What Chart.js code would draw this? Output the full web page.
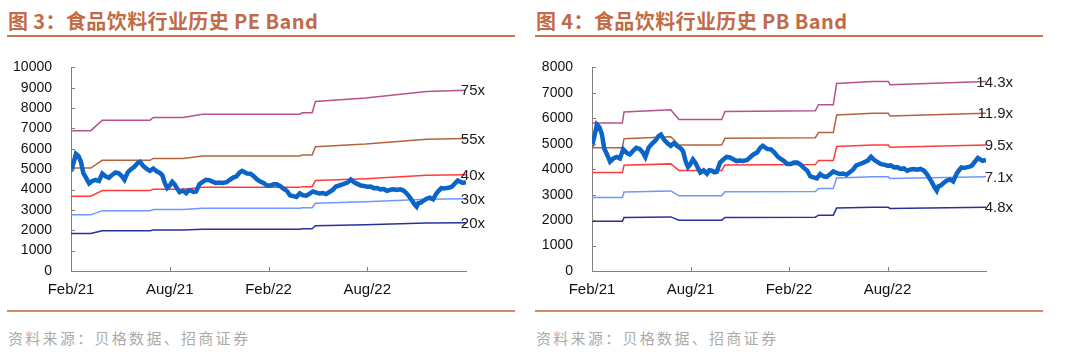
<!DOCTYPE html>
<html>
<head>
  <meta charset="utf-8">
  <title>PE / PB Band</title>
  <script src="https://cdn.jsdelivr.net/npm/chart.js"></script>
  <style>
    body { margin: 0; background: #fff; width: 1080px; height: 364px; position: relative; overflow: hidden; }
    .title { position: absolute; top: 9px; font: bold 20px "Noto Sans CJK SC", sans-serif; line-height: 24px; letter-spacing: 0.4px; color: #c06c48; white-space: nowrap; }
    .rule { position: absolute; background: #c8704c; }
    .source { position: absolute; top: 328px; font: 15px "Noto Sans CJK SC", sans-serif; line-height: 20px; color: #ababab; letter-spacing: 2.3px; white-space: nowrap; }
    canvas { position: absolute; top: 40px; }
  </style>
</head>
<body>
  <div class="title" style="left:8px">图 3：食品饮料行业历史 PE Band</div>
  <div class="rule" style="left:7px; top:35px; width:508px; height:2px"></div>
  <canvas id="peChart" width="530" height="265" style="left:0"></canvas>
  <div class="rule" style="left:7px; top:310px; width:508px; height:2px; background:#d08a6c"></div>
  <div class="source" style="left:8px">资料来源：贝格数据、招商证券</div>

  <div class="title" style="left:536px">图 4：食品饮料行业历史 PB Band</div>
  <div class="rule" style="left:535px; top:35px; width:508px; height:2px"></div>
  <canvas id="pbChart" width="550" height="265" style="left:530px"></canvas>
  <div class="rule" style="left:535px; top:310px; width:508px; height:2px; background:#d08a6c"></div>
  <div class="source" style="left:536px">资料来源：贝格数据、招商证券</div>

  <script>
    // x values are months since Feb 2021
    const xTickLabels = ['Feb/21', 'Aug/21', 'Feb/22', 'Aug/22'];
    const xTickMonths = [0, 6, 12, 18];

    // index level (same line in both charts)
    const indexMonths = [0, 0.15, 0.3, 0.45, 0.6, 0.75, 0.9, 1.1, 1.3, 1.5, 1.7, 1.9, 2.1, 2.3, 2.5, 2.7, 2.9, 3.1, 3.25, 3.45,
      3.65, 3.85, 4.05, 4.2, 4.4, 4.6, 4.8, 5.0, 5.2, 5.4, 5.55, 5.7, 5.85, 6.0, 6.15, 6.3, 6.45, 6.6, 6.8, 7.0,
      7.15, 7.3, 7.45, 7.6, 7.8, 8.0, 8.2, 8.4, 8.6, 8.8, 9.0, 9.2, 9.45, 9.65, 9.85, 10.05, 10.25, 10.4, 10.55, 10.7,
      10.9, 11.1, 11.3, 11.5, 11.7, 11.9, 12.1, 12.3, 12.5, 12.7, 12.9, 13.1, 13.3, 13.5, 13.7, 13.9, 14.1, 14.3, 14.5, 14.7,
      14.9, 15.1, 15.3, 15.5, 15.7, 15.9, 16.1, 16.3, 16.5, 16.8, 17.0, 17.2, 17.4, 17.6, 17.8, 18.0, 18.2, 18.4, 18.6, 18.8,
      19.0, 19.2, 19.4, 19.6, 19.8, 20.0, 20.2, 20.4, 20.55, 20.7, 20.85, 21.0, 21.1, 21.25, 21.4, 21.6, 21.8, 22.0, 22.2, 22.35,
      22.5, 22.65, 22.8, 23.0, 23.15, 23.35, 23.5, 23.65, 23.8, 24.0];
    const indexValues = [4900, 5300, 5750, 5650, 5380, 4800, 4600, 4300, 4420, 4480, 4420, 4780, 4650, 4580, 4720, 4840, 4800, 4650, 4480, 4850,
      5000, 5120, 5300, 5360, 5150, 5020, 4920, 5030, 4900, 4820, 4700, 4320, 4080, 4200, 4380, 4250, 4050, 3870, 3950, 3820,
      3960, 3940, 3880, 3900, 4260, 4380, 4480, 4460, 4390, 4320, 4340, 4320, 4360, 4480, 4590, 4650, 4840, 4920, 4850, 4790,
      4780, 4660, 4500, 4400, 4320, 4200, 4200, 4266, 4260, 4180, 4050, 3950, 3720, 3680, 3640, 3810, 3720, 3700, 3800, 3910,
      3850, 3810, 3830, 3780, 3880, 3980, 4150, 4200, 4250, 4340, 4490, 4360, 4280, 4200, 4180, 4140, 4150, 4070, 4080, 4010,
      4030, 3940, 3990, 4010, 3980, 4010, 3950, 3810, 3650, 3490, 3300, 3160, 3330, 3360, 3450, 3550, 3600, 3520, 3810, 3950,
      4070, 4050, 4070, 4100, 4150, 4320, 4440, 4380, 4330, 4360];

    // PE bands
    const peMonths = [0, 1.2, 1.9, 4.8, 5.0, 6.8, 8.0, 13.9, 14.05, 14.65, 14.85, 17.9, 21.6, 24];
    const pe75 = [6893, 6893, 7410, 7410, 7538, 7538, 7703, 7703, 7770, 7770, 8325, 8498, 8820, 8873];
    const pe55 = [5055, 5055, 5434, 5434, 5528, 5528, 5649, 5649, 5698, 5698, 6105, 6232, 6468, 6507];
    const pe40 = [3676, 3676, 3952, 3952, 4020, 4020, 4108, 4108, 4144, 4144, 4440, 4532, 4704, 4732];
    const pe30 = [2757, 2757, 2964, 2964, 3015, 3015, 3081, 3081, 3108, 3108, 3330, 3399, 3528, 3549];
    const pe20 = [1838, 1838, 1976, 1976, 2010, 2010, 2054, 2054, 2072, 2072, 2220, 2266, 2352, 2366];

    // PB bands
    const pbMonths = [0, 1.85, 1.95, 4.8, 4.95, 5.3, 7.9, 8.1, 13.6, 13.8, 14.7, 14.9, 17.1, 18.05, 18.15, 24];
    const pb143 = [5820, 5820, 6249, 6335, 6221, 5949, 5949, 6263, 6292, 6535, 6535, 7365, 7450, 7450, 7322, 7450];
    const pb119 = [4843, 4843, 5200, 5272, 5177, 4950, 4950, 5212, 5236, 5438, 5438, 6129, 6200, 6200, 6093, 6200];
    const pb95 = [3867, 3867, 4152, 4209, 4133, 3952, 3952, 4161, 4180, 4342, 4342, 4893, 4950, 4950, 4864, 4950];
    const pb71 = [2890, 2890, 3103, 3145, 3089, 2954, 2954, 3110, 3124, 3245, 3245, 3657, 3699, 3699, 3635, 3699];
    const pb48 = [1954, 1954, 2098, 2126, 2088, 1997, 1997, 2102, 2112, 2194, 2194, 2472, 2501, 2501, 2458, 2501];

    const bandColors = ['#b8528a', '#b4643c', '#ff3b3b', '#6e97ff', '#2b2f9c'];

    function pts(xs, ys) {
      return xs.map((x, i) => ({ x: x, y: ys[i] }));
    }

    // inner tick marks + end labels
    const bandDecor = {
      id: 'bandDecor',
      afterDraw(chart, args, opts) {
        const ctx = chart.ctx;
        const xs = chart.scales.x, ys = chart.scales.y;
        ctx.save();
        ctx.strokeStyle = '#808080';
        ctx.lineWidth = 1;
        ctx.beginPath();
        ys.ticks.forEach(t => {
          const y = Math.round(ys.getPixelForValue(t.value)) + 0.5;
          ctx.moveTo(xs.left, y); ctx.lineTo(xs.left + 4, y);
        });
        xs.ticks.forEach(t => {
          const x = Math.round(xs.getPixelForValue(t.value)) + 0.5;
          ctx.moveTo(x, ys.bottom); ctx.lineTo(x, ys.bottom - 4);
        });
        ctx.stroke();

        ctx.fillStyle = '#222';
        ctx.font = '15px "Liberation Sans", Arial, sans-serif';
        ctx.textAlign = 'right';
        ctx.textBaseline = 'middle';
        chart.data.datasets.forEach(ds => {
          if (!ds.bandLabel) return;
          const last = ds.data[ds.data.length - 1];
          ctx.fillText(ds.bandLabel, xs.right + opts.labelOffset, ys.getPixelForValue(last.y) + 1);
        });
        ctx.restore();
      }
    };

    function makeChart(id, months, bands, labels, yMax, yWidth, padRight, labelOffset) {
      const datasets = [{
        data: pts(indexMonths, indexValues),
        borderColor: '#0b64c8',
        borderWidth: 4.5,
        pointRadius: 0,
        tension: 0
      }];
      bands.forEach((b, i) => {
        datasets.push({
          data: pts(months, b),
          bandLabel: labels[i],
          borderColor: bandColors[i],
          borderWidth: 1.5,
          pointRadius: 0,
          tension: 0
        });
      });
      return new Chart(document.getElementById(id), {
        type: 'line',
        data: { datasets: datasets },
        options: {
          responsive: false,
          animation: false,
          devicePixelRatio: 1,
          layout: { padding: { left: 0, top: 25, right: padRight, bottom: 4 } },
          plugins: { legend: { display: false }, tooltip: { enabled: false }, bandDecor: { labelOffset: labelOffset } },
          scales: {
            x: {
              type: 'linear',
              min: 0,
              max: 24,
              afterBuildTicks: axis => { axis.ticks = xTickMonths.map(v => ({ value: v })); },
              afterFit: axis => { axis.height = 30; },
              grid: { display: false, drawTicks: false },
              border: { color: '#808080', width: 1 },
              ticks: {
                padding: 10,
                color: '#111',
                font: { family: '"Liberation Sans", Arial, sans-serif', size: 15 },
                maxRotation: 0,
                callback: v => xTickLabels[xTickMonths.indexOf(v)]
              }
            },
            y: {
              min: 0,
              max: yMax,
              afterFit: axis => { axis.width = yWidth; },
              grid: { display: false, drawTicks: false },
              border: { color: '#808080', width: 1 },
              ticks: {
                stepSize: 1000,
                padding: 19,
                color: '#111',
                font: { family: '"Liberation Sans", Arial, sans-serif', size: 14 },
                callback: v => String(v)
              }
            }
          }
        },
        plugins: [bandDecor]
      });
    }

    makeChart('peChart', peMonths, [pe75, pe55, pe40, pe30, pe20], ['75x', '55x', '40x', '30x', '20x'], 10000, 71, 64, 19);
    makeChart('pbChart', pbMonths, [pb143, pb119, pb95, pb71, pb48], ['14.3x', '11.9x', '9.5x', '7.1x', '4.8x'], 8000, 62, 94, 27);
  </script>
</body>
</html>
